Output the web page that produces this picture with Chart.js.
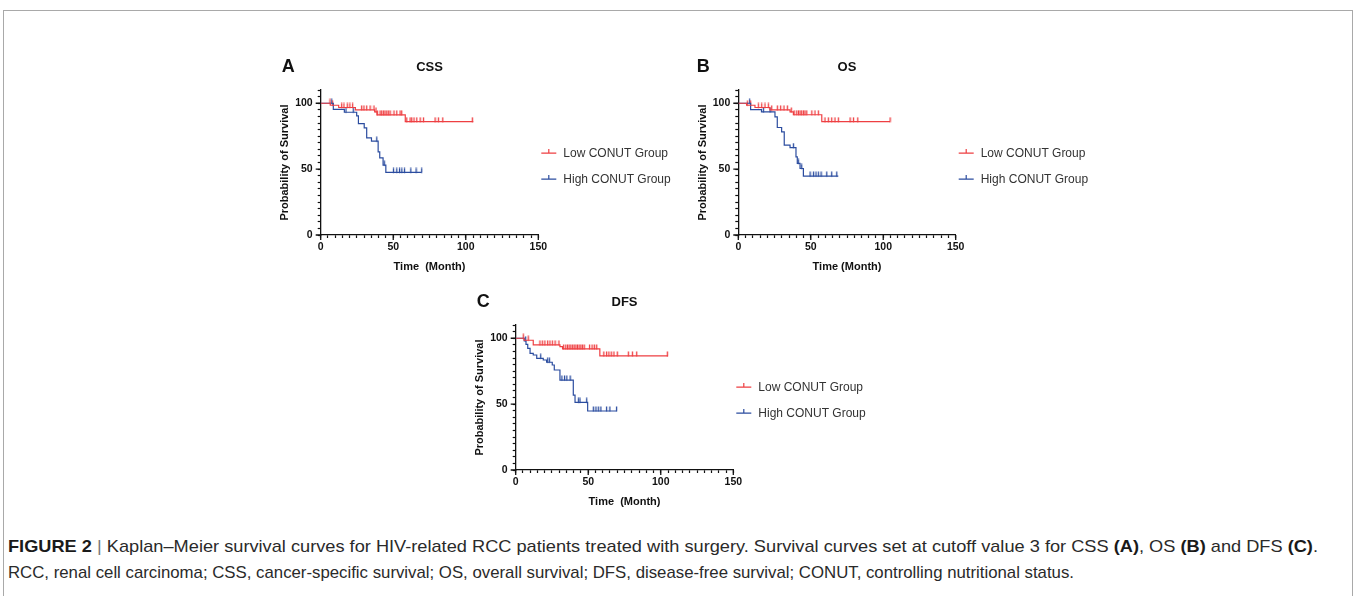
<!DOCTYPE html>
<html>
<head>
<meta charset="utf-8">
<title>Kaplan-Meier CONUT</title>
<script src="https://cdn.jsdelivr.net/npm/chart.js@4.4.1/dist/chart.umd.min.js"></script>
<style>
  body { margin: 0; background: #fff; width: 1355px; height: 596px; overflow: hidden; position: relative; }
  #frame { position: absolute; left: 3px; top: 10px; width: 1348px; height: 620px; border: 1px solid #a9a9a9; border-bottom: none; }
  canvas { position: absolute; }
  .caption { position: absolute; left: 8px; font-family: "Liberation Sans", Arial, sans-serif; font-size: 17px; color: #2a2a2a; white-space: nowrap; transform-origin: 0 50%; }
  .caption b { color: #1a1a1a; }
  .caption .sep { color: #777; }
</style>
</head>
<body>
<div id="frame"></div>
<canvas id="chart-css" width="450" height="230" style="left:240px;top:50px"></canvas>
<canvas id="chart-os" width="450" height="230" style="left:658px;top:50px"></canvas>
<canvas id="chart-dfs" width="450" height="230" style="left:435px;top:285px"></canvas>
<div class="caption" id="cap1" style="top:537px"><b>FIGURE 2</b> <span class="sep">|</span> Kaplan–Meier survival curves for HIV-related RCC patients treated with surgery. Survival curves set at cutoff value 3 for CSS <b>(A)</b>, OS <b>(B)</b> and DFS <b>(C)</b>.</div>
<div class="caption" id="cap2" style="top:563px">RCC, renal cell carcinoma; CSS, cancer-specific survival; OS, overall survival; DFS, disease-free survival; CONUT, controlling nutritional status.</div>

<script>
// axis labels
const xTickLabels = [0, 50, 100, 150];
const yTickLabels = [0, 50, 100];
const groupNames = ['Low CONUT Group', 'High CONUT Group'];

// CSS (A) - event times / survival (%) / censored times
const cssLowTimes = [0, 6.6, 12.4, 23.9, 37.2, 38.8, 58.3, 105.2];
const cssLowSurv = [100, 98.5, 96.8, 95.0, 93.4, 91.2, 86.0, 86.0];
const cssLowCensor = [6.4, 8.2, 14.4, 16, 18.3, 20.1, 22, 28.2, 29.8, 31.7, 34, 36.7, 38.1, 39, 40.9, 42, 43.2, 44.3, 45.5, 46.6, 47.8, 50.5, 52.4, 54.7, 55.8, 59.3, 61.6, 62.7, 64.3, 66.2, 68.5, 70.8, 78.8, 81.1, 84.1, 104.5];
const cssHighTimes = [0, 8.7, 16.3, 24.8, 26, 30, 31.7, 35, 39.6, 40.7, 43, 44.9, 69.6];
const cssHighSurv = [100, 95.4, 93.2, 90.4, 84.6, 81.3, 73.7, 71.2, 63.1, 58.6, 53.0, 47.5, 47.5];
const cssHighCensor = [7.6, 17.4, 22.4, 38.6, 43.8, 50.1, 52.4, 54.3, 55.9, 57.7, 62.1, 65.7, 69.6];

// OS (B)
const osLowTimes = [0, 5.7, 11.5, 21.8, 35.7, 38, 57.6, 104.7];
const osLowSurv = [100, 98.5, 96.8, 95.0, 93.4, 91.3, 86.0, 86.0];
const osLowCensor = [6.2, 8.5, 13.8, 16.1, 18.4, 20.7, 23, 26.9, 29.2, 31.5, 33.8, 36.5, 38.5, 40.3, 41.5, 42.6, 43.7, 44.9, 46, 47.2, 50.7, 52.9, 55.2, 59.8, 62.1, 64.4, 66.7, 69, 77.1, 79.4, 82.4, 104.7];
const osHighTimes = [0, 8.5, 16, 25.3, 26.9, 29.9, 31.7, 35.7, 39.8, 40.7, 42.6, 44.9, 69];
const osHighSurv = [100, 95.2, 93.4, 89.6, 81.6, 78.3, 68.2, 66.4, 59.3, 54.3, 50.5, 44.7, 44.7];
const osHighCensor = [7.8, 17.3, 21.9, 38, 41.4, 43.7, 49.5, 51.8, 53.6, 55.2, 57.1, 61, 64.4, 67.9];

// DFS (C)
const dfsLowTimes = [0, 5.7, 12.1, 30.5, 32.3, 58, 105];
const dfsLowSurv = [100, 98.5, 95.0, 93.6, 91.9, 86.6, 86.6];
const dfsLowCensor = [5.2, 8.6, 16.7, 18.3, 20.1, 22, 23.6, 25.2, 27.1, 29.8, 33, 34.5, 35.7, 36.8, 38, 39.2, 40.3, 41.5, 42.6, 43.7, 44.9, 46, 47.2, 50.9, 52.6, 54.2, 55.8, 60.7, 62.6, 64.2, 65.8, 67.7, 70, 77.6, 80.4, 83.4, 104.5];
const dfsHighTimes = [0, 5.9, 7.1, 8.3, 9.9, 12.1, 14.5, 19, 21.3, 25.2, 26.6, 30.5, 39.7, 40.9, 49.6, 69.6];
const dfsHighSurv = [100, 98, 95.4, 92.4, 88.6, 87.3, 84.8, 83.5, 81.8, 79.7, 75.9, 68.3, 56.9, 51.4, 44.8, 44.8];
const dfsHighCensor = [6.8, 17.2, 22, 23.2, 31.8, 33.6, 35.2, 37.5, 43.2, 44.3, 48.9, 53.5, 55.3, 56.9, 58.7, 62.6, 64.9, 69.5];

const RED = '#ee3f42';
const BLUE = '#2b4c9f';
const AXIS = '#111';
const FONT = '"Liberation Sans", Arial, sans-serif';

// squeeze each caption line to the width it has in the original
function fitLine(id, target) {
  const el = document.getElementById(id);
  const w = el.getBoundingClientRect().width;
  el.style.transform = 'scaleX(' + (target / w) + ')';
}
fitLine('cap1', 1310);
fitLine('cap2', 1066);

function survAt(times, surv, t) {
  let v = surv[0];
  for (let i = 0; i < times.length; i++) {
    if (times[i] <= t) v = surv[i];
  }
  return v;
}

// little vertical tick drawn above the curve
function censorMark(color) {
  const c = document.createElement('canvas');
  c.width = 3; c.height = 10;
  const g = c.getContext('2d');
  g.fillStyle = color;
  g.fillRect(0.9, 0.5, 1.3, 5);
  return c;
}
const redMark = censorMark(RED);
const blueMark = censorMark(BLUE);

const panelDeco = {
  id: 'panelDeco',
  afterDraw(chart, args, opts) {
    const { ctx, chartArea: a, scales } = chart;
    ctx.save();
    // longer ticks at labelled values
    ctx.strokeStyle = AXIS;
    ctx.lineWidth = 1.3;
    ctx.beginPath();
    xTickLabels.forEach(v => {
      const px = scales.x.getPixelForValue(v);
      ctx.moveTo(px, a.bottom); ctx.lineTo(px, a.bottom + 5);
    });
    yTickLabels.forEach(v => {
      const py = scales.y.getPixelForValue(v);
      ctx.moveTo(a.left, py); ctx.lineTo(a.left - 5, py);
    });
    ctx.stroke();

    // panel letter + title
    ctx.fillStyle = '#111';
    ctx.textBaseline = 'middle';
    ctx.textAlign = 'left';
    ctx.font = 'bold 18px ' + FONT;
    ctx.fillText(opts.letter, a.left + opts.letterDx, a.top - 23);
    ctx.textAlign = 'center';
    ctx.font = 'bold 13px ' + FONT;
    ctx.fillText(opts.title, (a.left + a.right) / 2, a.top - 23);

    // legend
    const colors = [RED, BLUE];
    ctx.font = '12px ' + FONT;
    ctx.textAlign = 'left';
    groupNames.forEach((name, i) => {
      const y = a.top + opts.legendDy + i * 26;
      const x0 = a.right + 3;
      ctx.strokeStyle = colors[i];
      ctx.lineWidth = 1.2;
      ctx.beginPath();
      ctx.moveTo(x0, y); ctx.lineTo(x0 + 15, y);
      ctx.moveTo(x0 + 7.5, y); ctx.lineTo(x0 + 7.5, y - 4);
      ctx.stroke();
      ctx.fillStyle = '#333';
      ctx.fillText(name, x0 + 22, y + 0.5);
    });
    ctx.restore();
  }
};

function makeKM(canvasId, d) {
  const lowLine = d.lowT.map((t, i) => ({ x: t, y: d.lowS[i] }));
  const highLine = d.highT.map((t, i) => ({ x: t, y: d.highS[i] }));
  const lowCens = d.lowC.map(t => ({ x: t, y: survAt(d.lowT, d.lowS, t) }));
  const highCens = d.highC.map(t => ({ x: t, y: survAt(d.highT, d.highS, t) }));

  return new Chart(document.getElementById(canvasId), {
    type: 'line',
    data: {
      datasets: [
        { data: lowLine, borderColor: RED, borderWidth: 1.2, stepped: 'before', pointRadius: 0, fill: false },
        { data: highLine, borderColor: BLUE, borderWidth: 1.2, stepped: 'before', pointRadius: 0, fill: false },
        { data: lowCens, showLine: false, pointStyle: redMark, pointRadius: 3 },
        { data: highCens, showLine: false, pointStyle: blueMark, pointRadius: 3 }
      ]
    },
    options: {
      responsive: false,
      animation: false,
      devicePixelRatio: 1,
      layout: { padding: { left: 30, top: 40.1, right: d.padRight, bottom: 0 } },
      plugins: {
        legend: { display: false },
        tooltip: { enabled: false },
        panelDeco: { letter: d.letter, title: d.title, letterDx: d.letterDx, legendDy: d.legendDy }
      },
      scales: {
        x: {
          type: 'linear', min: 0, max: 150,
          afterFit: s => { s.height = 45; },
          border: { color: AXIS, width: 1.3 },
          grid: { drawOnChartArea: false, tickLength: 3, color: AXIS, tickWidth: 1.2 },
          ticks: {
            stepSize: 5, autoSkip: false, maxRotation: 0, padding: 3, color: '#111',
            font: { family: FONT, size: 10.5, weight: 'bold' },
            callback: v => (xTickLabels.includes(v) ? v : '')
          },
          title: { display: true, text: d.xTitle, color: '#111', font: { family: FONT, size: 11, weight: 'bold' }, padding: { top: 0, bottom: 6 } }
        },
        y: {
          type: 'linear', min: 0, max: 110,
          afterFit: s => { s.width = d.yWidth; },
          border: { color: AXIS, width: 1.3 },
          grid: { drawOnChartArea: false, tickLength: 3, color: AXIS, tickWidth: 1.2 },
          ticks: {
            stepSize: 5, autoSkip: false, padding: 5, color: '#111',
            font: { family: FONT, size: 10.5, weight: 'bold' },
            callback: v => (yTickLabels.includes(v) ? v : '')
          },
          title: { display: true, text: 'Probability of Survival', color: '#111', font: { family: FONT, size: 11, weight: 'bold' }, padding: { top: 8, bottom: 0 } }
        }
      }
    },
    plugins: [panelDeco]
  });
}

makeKM('chart-css', {
  lowT: cssLowTimes, lowS: cssLowSurv, lowC: cssLowCensor,
  highT: cssHighTimes, highS: cssHighSurv, highC: cssHighCensor,
  letter: 'A', title: 'CSS', xTitle: 'Time  (Month)',
  letterDx: -39, legendDy: 63, yWidth: 50.7, padRight: 151.7
});
makeKM('chart-os', {
  lowT: osLowTimes, lowS: osLowSurv, lowC: osLowCensor,
  highT: osHighTimes, highS: osHighSurv, highC: osHighCensor,
  letter: 'B', title: 'OS', xTitle: 'Time (Month)',
  letterDx: -41.6, legendDy: 63, yWidth: 50.3, padRight: 152.3
});
makeKM('chart-dfs', {
  lowT: dfsLowTimes, lowS: dfsLowSurv, lowC: dfsLowCensor,
  highT: dfsHighTimes, highS: dfsHighSurv, highC: dfsHighCensor,
  letter: 'C', title: 'DFS', xTitle: 'Time  (Month)',
  letterDx: -39, legendDy: 62, yWidth: 50.7, padRight: 151.7
});
</script>
</body>
</html>
